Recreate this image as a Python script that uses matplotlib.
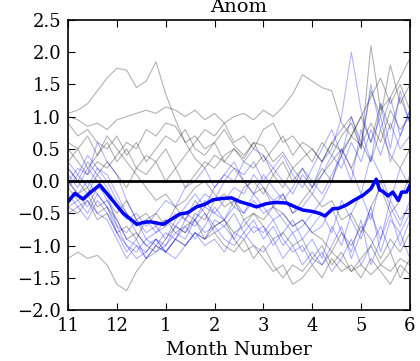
#!/usr/bin/env python3
'''Anomaly ensemble plot, Nov - Jun'''
import numpy as np
import matplotlib
matplotlib.use('Agg')
import matplotlib.pyplot as plt

MONTH_LABELS = ['11', '12', '1', '2', '3', '4', '5', '6']
N_PTS = 36  # samples per member, every 0.2 month from Nov 1

# ensemble members shown in grey
grey_members = [
    [1.05,1.1,1.2,1.4,1.6,1.75,1.72,1.45,1.55,1.85,1.35,0.95,0.6,0.35,0.2,0.4,0.3,0.5,0.35,0.6,0.55,0.3,0.45,0.2,0.35,0.5,0.3,0.6,0.45,0.7,0.55,0.9,0.6,1.1,0.8,1.0],
    [1.0,0.95,0.85,0.9,0.8,0.95,1.0,1.05,1.1,1.05,1.15,1.1,1.0,1.1,0.95,1.05,0.9,1.0,1.05,0.95,1.1,1.0,1.15,1.35,1.65,1.55,1.45,1.4,0.9,0.7,1.0,1.3,1.6,1.2,1.5,1.1],
    [0.5,0.3,0.1,0.3,0.2,0.4,0.6,0.5,0.8,0.7,0.9,0.85,0.6,0.7,0.5,0.6,0.8,0.55,0.4,0.6,0.3,0.5,0.7,0.4,0.6,0.5,0.3,0.6,0.8,1.0,0.6,1.4,1.0,1.8,1.2,1.5],
    [0.2,0.0,-0.2,0.1,0.3,0.1,-0.1,0.2,0.4,0.3,0.5,0.2,0.4,0.6,0.8,0.7,0.9,0.6,0.7,0.5,0.8,0.9,0.6,0.7,0.5,0.3,0.6,0.4,0.7,0.9,0.5,2.1,1.1,1.3,1.6,1.9],
    [-1.2,-1.1,-1.2,-1.15,-1.3,-1.6,-1.7,-1.4,-1.2,-1.0,-1.1,-0.9,-1.0,-0.8,-0.9,-0.7,-0.6,-0.8,-0.7,-0.5,-0.6,-0.4,-0.5,-0.7,-0.6,-0.8,-0.9,-1.1,-0.8,-1.0,-0.7,-0.9,-1.2,-0.9,-1.1,-0.8],
    [0.0,-0.2,-0.1,-0.4,-0.3,-0.5,-0.3,-0.6,-0.5,-0.7,-0.6,-0.8,-0.7,-0.6,-0.9,-0.8,-1.0,-1.1,-0.9,-1.2,-1.0,-1.3,-1.5,-1.3,-1.4,-1.2,-1.3,-1.1,-1.25,-1.4,-1.3,-1.45,-1.3,-1.4,-1.2,-1.3],
    [0.6,0.5,0.7,0.4,0.6,0.3,0.5,0.2,0.1,0.3,0.0,0.2,-0.1,0.1,0.3,0.2,0.4,0.5,0.3,0.2,0.4,0.1,0.3,0.0,0.2,-0.1,0.1,0.3,0.5,0.2,0.6,0.3,0.8,0.4,0.2,0.5],
    [-0.1,-0.3,-0.2,-0.5,-0.4,-0.6,-0.9,-0.8,-1.0,-1.1,-0.9,-0.7,-0.8,-0.5,-0.6,-0.3,-0.2,-0.4,-0.1,0.0,-0.2,0.1,-0.1,0.2,0.0,-0.2,-0.4,-0.3,-0.6,-0.5,-0.8,-0.4,-0.1,-0.5,-0.3,0.1],
    [0.3,0.5,0.2,0.4,0.7,0.5,0.3,0.1,-0.1,-0.3,-0.2,-0.4,-0.3,-0.1,0.0,-0.2,-0.4,-0.3,-0.6,-0.5,-0.7,-0.9,-0.8,-1.0,-0.9,-1.2,-1.0,-1.3,-1.1,-1.4,-1.2,-1.0,-1.3,-1.1,-1.5,-1.2],
    [0.9,0.7,0.8,0.6,0.5,0.7,0.4,0.6,0.3,0.5,0.7,0.6,0.8,0.5,0.4,0.6,0.3,0.2,0.0,-0.2,-0.1,-0.4,-0.2,-0.5,-0.3,-0.1,0.2,0.0,0.4,0.7,1.0,0.6,1.2,0.8,1.3,0.9],
    [-0.4,-0.5,-0.3,-0.6,-0.5,-0.8,-0.7,-0.9,-0.6,-0.5,-0.7,-0.4,-0.6,-0.3,-0.5,-0.7,-0.6,-0.9,-1.1,-1.0,-1.2,-1.4,-1.3,-1.6,-1.5,-1.3,-1.5,-1.2,-1.4,-1.3,-1.5,-1.2,-1.4,-1.6,-1.3,-1.45],
]

# ensemble members shown in blue
blue_members = [
    [0.1,-0.1,0.2,0.0,-0.3,-0.6,-0.9,-1.0,-1.2,-1.1,-1.0,-0.8,-0.9,-0.6,-0.4,-0.5,-0.3,-0.1,-0.2,0.1,-0.1,-0.3,-0.2,-0.5,-0.4,-0.2,0.1,0.4,0.2,0.6,0.3,0.8,0.4,0.9,0.5,0.7],
    [-0.3,-0.2,-0.4,-0.1,-0.2,-0.7,-1.0,-1.1,-0.9,-1.0,-0.8,-0.9,-0.6,-0.7,-0.5,-0.8,-0.7,-0.9,-0.6,-0.8,-0.7,-1.0,-0.8,-0.6,-0.9,-0.7,-0.5,-0.8,-0.3,-0.6,-0.9,-0.4,-1.1,-0.6,-0.8,-0.5],
    [0.0,0.2,0.1,0.6,0.3,0.1,-0.3,-0.6,-0.8,-0.7,-0.9,-0.6,-0.4,-0.2,-0.4,-0.1,0.1,0.0,0.3,0.5,0.4,0.2,0.0,-0.2,0.1,-0.1,0.3,0.5,1.0,2.0,1.1,0.6,1.0,0.3,0.7,1.1],
    [-0.5,-0.4,-0.6,-0.3,-0.5,-0.8,-1.1,-0.9,-1.2,-1.0,-1.1,-0.9,-1.0,-0.8,-0.9,-0.6,-0.7,-0.5,-0.8,-0.6,-0.9,-0.7,-1.0,-0.8,-1.1,-0.9,-1.2,-0.7,-1.0,-0.5,-0.2,-0.6,0.0,-0.4,-0.7,-0.3],
    [0.2,0.0,0.3,0.1,-0.1,-0.4,-0.6,-0.5,-0.7,-0.5,-0.3,-0.4,-0.1,0.0,0.2,-0.1,0.1,0.3,0.0,-0.2,0.1,-0.1,-0.3,-0.1,0.2,0.0,-0.2,0.1,0.4,0.0,0.8,0.3,1.2,0.5,1.4,0.9],
    [-0.2,-0.4,-0.3,-0.5,-0.6,-0.9,-1.2,-1.0,-1.1,-0.9,-1.1,-1.2,-1.0,-0.8,-1.0,-0.9,-1.1,-0.8,-0.9,-0.7,-0.8,-0.6,-0.9,-1.1,-1.0,-1.3,-1.1,-1.4,-1.2,-0.9,-1.3,-1.0,-0.7,-1.1,-0.8,-1.2],
    [0.0,-0.2,0.0,-0.2,-0.4,-0.7,-0.8,-0.6,-0.9,-0.8,-0.6,-0.7,-0.5,-0.6,-0.3,-0.5,-0.6,-0.4,-0.5,-0.3,-0.5,-0.4,-0.6,-0.8,-0.7,-0.5,-0.3,0.0,0.5,0.2,-0.2,0.4,0.1,-0.3,0.2,-0.1],
    [-0.1,0.1,-0.1,0.2,0.0,-0.3,-0.5,-0.8,-1.0,-0.9,-1.1,-0.9,-0.7,-0.9,-0.7,-0.4,-0.6,-0.3,-0.5,-0.2,-0.4,-0.6,-0.5,-0.7,-0.6,-0.8,-0.7,-0.4,-0.8,-1.1,-0.6,-1.3,-0.9,-0.5,-1.0,-0.6],
    [0.3,0.1,0.4,0.2,0.1,-0.2,-0.5,-0.7,-0.6,-0.8,-0.7,-0.5,-0.6,-0.4,-0.2,-0.3,0.0,0.2,0.1,0.3,0.0,0.2,0.4,0.1,-0.1,0.2,0.5,0.8,0.4,1.0,0.5,1.5,0.8,1.3,0.7,1.1],
    [-0.4,-0.3,-0.5,-0.2,-0.4,-0.8,-1.0,-1.2,-1.1,-0.9,-1.0,-0.7,-0.8,-0.6,-0.8,-0.7,-0.9,-1.0,-0.8,-1.0,-1.1,-0.9,-1.2,-1.0,-1.3,-1.1,-1.3,-1.0,-0.7,-1.2,-0.8,-0.5,-0.9,-0.3,-0.6,-0.4],
]

# ensemble mean (thick blue), read at month positions
mean_x = [0,0.14,0.31,0.45,0.65,0.86,1.13,1.41,1.55,1.68,1.95,2.1,2.29,2.45,2.63,2.8,2.97,3.15,3.35,3.52,3.7,3.86,4.06,4.25,4.47,4.65,4.81,5.0,5.15,5.26,5.42,5.55,5.70,5.85,6.04,6.2,6.31,6.38,6.45,6.55,6.65,6.76,6.83,6.93,7.0]
mean_y = [-0.32,-0.19,-0.28,-0.18,-0.06,-0.25,-0.50,-0.67,-0.64,-0.63,-0.67,-0.6,-0.51,-0.49,-0.40,-0.36,-0.29,-0.27,-0.26,-0.32,-0.36,-0.40,-0.35,-0.33,-0.34,-0.40,-0.45,-0.47,-0.50,-0.54,-0.43,-0.42,-0.37,-0.30,-0.22,-0.12,0.03,-0.14,-0.16,-0.23,-0.17,-0.30,-0.17,-0.17,-0.07]


def run():
    plt.rcParams['font.family'] = 'DejaVu Serif'
    fig = plt.figure(figsize=(4.2, 3.61), dpi=100)
    ax = fig.add_axes([0.162, 0.141, 0.814, 0.804])

    t = np.linspace(0, len(MONTH_LABELS) - 1, N_PTS)
    for m in grey_members:
        ax.plot(t, m, color='black', alpha=0.3, lw=0.8)
    for m in blue_members:
        ax.plot(t, m, color='blue', alpha=0.3, lw=0.8)

    ax.axhline(0, color='black', lw=2)
    ax.plot(mean_x, mean_y, color='blue', lw=2.5)

    ax.set_xlim(0, len(MONTH_LABELS) - 1)
    ax.set_ylim(-2.0, 2.5)
    ax.set_xticks(range(len(MONTH_LABELS)))
    ax.set_xticklabels(MONTH_LABELS)
    ax.set_yticks(np.arange(-2.0, 2.51, 0.5))
    ax.tick_params(direction='in', top=True, right=True, length=5,
                   labelsize=13, pad=5)
    for s in ax.spines.values():
        s.set_linewidth(1.2)
    ax.set_xlabel('Month Number', fontsize=13.5, labelpad=4)
    ax.set_title('Anom', fontsize=14, pad=6)

    fig.savefig('out.png', dpi=100)


if __name__ == '__main__':
    run()
